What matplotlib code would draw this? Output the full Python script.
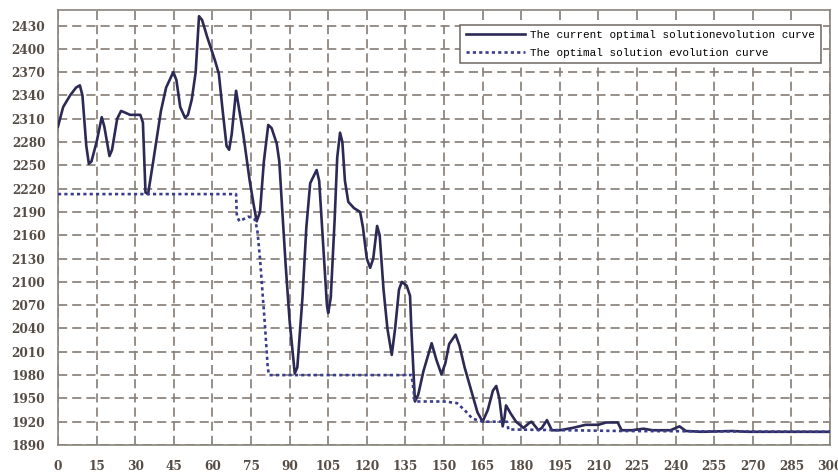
import numpy as np
import matplotlib
matplotlib.use("Agg")
import matplotlib.pyplot as plt

# current optimal solution per iteration
cur_x = [0, 2, 4.7, 7, 8.5, 9.5, 11, 12, 13, 15, 17, 18, 20, 21, 23, 24.5, 26, 28,
         32, 33, 34, 35, 37, 40, 42, 44.8, 46, 47.5, 49.4, 50.5, 52, 53.5, 54.8,
         56, 58, 61, 62.5, 64, 65.5, 66.5, 67.5, 69.2, 70.5, 72, 74.5, 76, 77.2,
         78.5, 80, 81.7, 83, 85, 86, 87, 88.5, 90, 92, 93, 95, 96.5, 98, 100.5,
         101.5, 103, 104.5, 105, 106, 107.5, 108.5, 109.6, 110.5, 111.5, 112.8,
         115, 117.4, 118.5, 120, 121.3, 122.5, 124, 125, 126.5, 128, 129.7, 131,
         132.5, 133.6, 135.5, 136.8, 137.3, 138.7, 140, 142, 145.2, 147, 149,
         150.5, 152, 154.5, 156, 158, 161, 163, 165, 167, 169, 170.3, 171.5,
         172.8, 173.5, 174.1, 176, 178, 180.9, 183, 184, 186.7, 188, 190, 191.9,
         195, 200, 205, 210, 213, 217.5, 219, 223, 227.5, 231, 238, 241.5, 244,
         250, 262, 268, 300]
cur_y = [2300, 2325, 2340, 2350, 2353, 2340, 2275, 2252, 2255, 2280, 2312, 2300,
         2262, 2270, 2310, 2320, 2318, 2315, 2315, 2305, 2215, 2213, 2255, 2320,
         2350, 2370, 2360, 2325, 2311, 2315, 2335, 2370, 2442, 2437, 2415, 2385,
         2368, 2320, 2275, 2270, 2290, 2346, 2320, 2290, 2230, 2200, 2178, 2190,
         2255, 2302, 2298, 2278, 2255, 2200, 2120, 2050, 1982, 1990, 2080, 2170,
         2227, 2244, 2230, 2150, 2070, 2060, 2080, 2180, 2260, 2292, 2280, 2230,
         2203, 2195, 2190, 2170, 2130, 2118, 2130, 2172, 2160, 2090, 2040, 2006,
         2040, 2090, 2100, 2095, 2082, 2040, 1946, 1955, 1985, 2021, 2000, 1981,
         1995, 2020, 2032, 2018, 1990, 1955, 1932, 1920, 1935, 1960, 1966, 1950,
         1914, 1925, 1941, 1930, 1920, 1912, 1918, 1920, 1909, 1912, 1922, 1909,
         1909, 1912, 1916, 1916, 1919, 1919, 1909, 1909, 1911, 1909, 1909, 1914,
         1908, 1907, 1908, 1907, 1907]

# best solution found so far
best_x = [0, 69.2, 69.5, 70.5, 74, 76.6, 77.5, 78.5, 79.5, 80.5, 81.5, 82,
          137.4, 138.7, 145, 150, 155, 158, 161, 165, 174.5, 175, 220, 300]
best_y = [2213, 2213, 2185, 2178, 2184, 2180, 2165, 2130, 2085, 2040, 1990, 1980,
          1980, 1946, 1946, 1946, 1944, 1935, 1924, 1920, 1920, 1910, 1908, 1907]

x_ticks = list(range(0, 301, 15))
y_ticks = list(range(1890, 2431, 30))

fig = plt.figure(figsize=(8.38, 4.73), dpi=100)
ax = fig.add_axes([0.0692, 0.0592, 0.9213, 0.9197])

ax.plot(cur_x, cur_y, color="#2c2a55", linewidth=1.9, solid_joinstyle="round",
        label="The current optimal solutionevolution curve", zorder=3)
ax.plot(best_x, best_y, color="#3a3c8c", linewidth=1.9, linestyle=(0, (1.2, 1.2)),
        label="The optimal solution evolution curve", zorder=3)

ax.set_xlim(0, 300)
ax.set_ylim(1890, 2450)
ax.set_xticks(x_ticks)
ax.set_yticks(y_ticks)

ax.grid(True, color="#857d76", linewidth=1.2, linestyle=(0, (5.5, 3)))
for sp in ax.spines.values():
    sp.set_color("#8a837c")
    sp.set_linewidth(1.2)

ax.tick_params(axis="both", length=0, labelcolor="#554c45", labelsize=8.7)
ax.tick_params(axis="x", pad=11)
ax.tick_params(axis="y", pad=9)
for lab in ax.get_xticklabels() + ax.get_yticklabels():
    lab.set_fontfamily("DejaVu Serif")
    lab.set_fontweight("bold")

leg = ax.legend(loc="upper right", bbox_to_anchor=(0.988, 0.966),
                prop={"family": "Liberation Mono", "size": 7.9},
                fancybox=False, framealpha=1, edgecolor="#6e6760",
                handlelength=5.4, labelspacing=0.7, borderpad=0.5,
                handletextpad=0.5, borderaxespad=0)
leg.get_frame().set_linewidth(1.1)

fig.savefig("out.png", dpi=100)
